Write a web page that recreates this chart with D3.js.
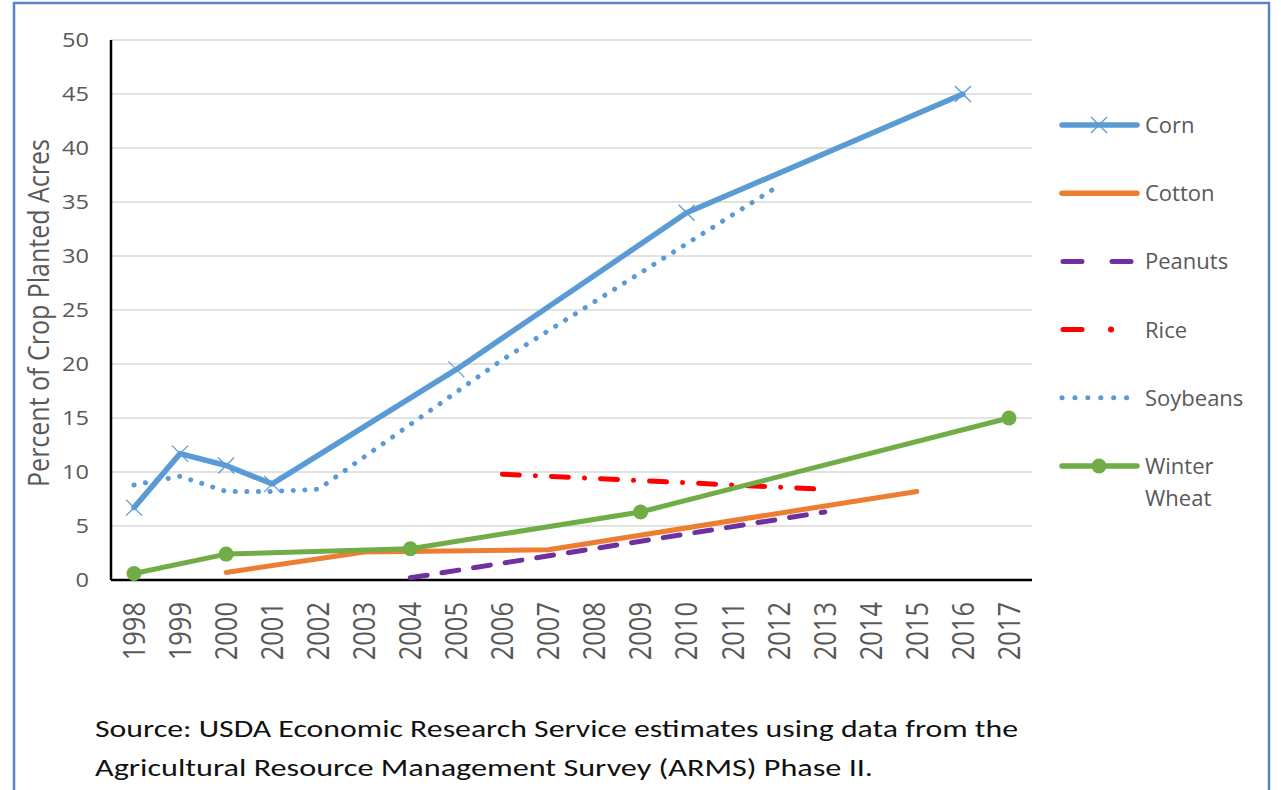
<!DOCTYPE html>
<html>
<head>
<meta charset="utf-8">
<script src="https://cdn.jsdelivr.net/npm/d3@7"></script>
<style>
  body { margin: 0; background: #fff; }
  svg { display: block; }
</style>
</head>
<body>
<div id="chart"></div>
<script>
// data
const years = d3.range(1998, 2018).map(String);
const yTicks = [0, 5, 10, 15, 20, 25, 30, 35, 40, 45, 50];

const cornData = [['1998', 6.7], ['1999', 11.7], ['2000', 10.6], ['2001', 8.9], ['2005', 19.5], ['2010', 34.0], ['2016', 45.0]];
const cottonData = [['2000', 0.7], ['2003', 2.6], ['2007', 2.8], ['2015', 8.2]];
const peanutsData = [['2004', 0.2], ['2013', 6.3]];
const riceData = [['2006', 9.8], ['2013', 8.4]];
const soybeansData = [['1998', 8.8], ['1999', 9.6], ['2000', 8.2], ['2001', 8.2], ['2002', 8.4], ['2006', 20.4], ['2012', 36.5]];
const wheatData = [['1998', 0.6], ['2000', 2.4], ['2004', 2.9], ['2009', 6.3], ['2017', 15.0]];

const series = [
    {name: 'Corn', data: cornData, color: '#5B9BD5', dash: null, marker: 'x'},
    {name: 'Cotton', data: cottonData, color: '#ED7D31', dash: null, marker: null},
    {name: 'Peanuts', data: peanutsData, color: '#7030A0', dash: '17 15', marker: null},
    {name: 'Rice', data: riceData, color: '#FF0000', dash: '17 16 0.1 16', marker: null},
    {name: 'Soybeans', data: soybeansData, color: '#5B9BD5', dash: '0.1 11.5', marker: null},
    {name: 'Winter Wheat', data: wheatData, color: '#70AD47', dash: null, marker: 'circle'}
];

const width = 1281, height = 790;
const plot = {left: 111, right: 1032, top: 40, bottom: 580};
const textColor = '#595959';
const font = "'Open Sans', 'Noto Sans', sans-serif";
const stretch = 1.18; // the picture is a bit wider than tall

const svg = d3.select('#chart').append('svg')
    .attr('width', width)
    .attr('height', height);

svg.append('rect').attr('width', width).attr('height', height).attr('fill', '#fff');

// frame
svg.append('rect')
    .attr('x', 14).attr('y', 3)
    .attr('width', 1255).attr('height', 820)
    .attr('fill', 'none')
    .attr('stroke', '#5585C5')
    .attr('stroke-width', 2.5);

const x = d3.scaleBand().domain(years).range([plot.left, plot.right]);
const cx = d => x(d) + x.bandwidth() / 2;
const y = d3.scaleLinear().domain([0, 50]).range([plot.bottom, plot.top]);

// grid
svg.append('g')
    .selectAll('line')
    .data(yTicks.filter(t => t > 0))
    .enter()
    .append('line')
    .attr('x1', plot.left).attr('x2', plot.right)
    .attr('y1', d => y(d)).attr('y2', d => y(d))
    .attr('stroke', '#D9D9D9')
    .attr('stroke-width', 1.5);

// y tick labels
svg.append('g')
    .selectAll('text')
    .data(yTicks)
    .enter()
    .append('text')
    .attr('transform', d => `translate(89, ${y(d)}) scale(${stretch}, 1)`)
    .attr('dy', '0.36em')
    .attr('text-anchor', 'end')
    .attr('fill', textColor)
    .style('font-family', font)
    .style('font-size', '20px')
    .text(d => d);

// x tick labels
svg.append('g')
    .selectAll('text')
    .data(years)
    .enter()
    .append('text')
    .attr('transform', d => `translate(${cx(d)}, 602) scale(${stretch}, 1) rotate(-90)`)
    .attr('dy', '0.36em')
    .attr('text-anchor', 'end')
    .attr('fill', textColor)
    .style('font-family', font)
    .style('font-size', '25.5px')
    .text(d => d);

// y title
svg.append('text')
    .attr('transform', `translate(38, ${(plot.top + plot.bottom) / 2 + 3}) scale(${stretch}, 1) rotate(-90)`)
    .attr('dy', '0.36em')
    .attr('text-anchor', 'middle')
    .attr('fill', textColor)
    .style('font-family', font)
    .style('font-size', '25px')
    .text('Percent of Crop Planted Acres');

// axes
svg.append('line')
    .attr('x1', plot.left).attr('x2', plot.left)
    .attr('y1', plot.top).attr('y2', plot.bottom)
    .attr('stroke', '#000').attr('stroke-width', 2.5);
svg.append('line')
    .attr('x1', plot.left).attr('x2', plot.right)
    .attr('y1', plot.bottom).attr('y2', plot.bottom)
    .attr('stroke', '#000').attr('stroke-width', 2.5);

const line = d3.line()
    .x(d => cx(d[0]))
    .y(d => y(d[1]));

function drawX(g, px, py, color) {
    const s = 8;
    g.append('path')
        .attr('d', `M${px - s},${py - s}L${px + s},${py + s}M${px - s},${py + s}L${px + s},${py - s}`)
        .attr('stroke', color)
        .attr('stroke-width', 1.3)
        .attr('fill', 'none');
}

series.forEach(s => {
    const g = svg.append('g');
    g.append('path')
        .datum(s.data)
        .attr('d', line)
        .attr('fill', 'none')
        .attr('stroke', s.color)
        .attr('stroke-width', s.name === 'Corn' ? 5.5 : 5)
        .attr('stroke-linecap', 'round')
        .attr('stroke-linejoin', 'round')
        .attr('stroke-dasharray', s.dash);
    if (s.marker === 'x') {
        s.data.forEach(d => drawX(g, cx(d[0]), y(d[1]), s.color));
    }
    if (s.marker === 'circle') {
        g.selectAll('circle')
            .data(s.data)
            .enter()
            .append('circle')
            .attr('cx', d => cx(d[0]))
            .attr('cy', d => y(d[1]))
            .attr('r', 7.5)
            .attr('fill', s.color);
    }
});

// legend
const legend = svg.append('g');
series.forEach((s, i) => {
    const ly = 125 + i * 68.2;
    const row = legend.append('g');
    if (s.name === 'Peanuts') {
        row.append('path')
            .attr('d', `M1063,${ly}L1082,${ly}M1112,${ly}L1131,${ly}`)
            .attr('stroke', s.color).attr('stroke-width', 5).attr('stroke-linecap', 'round');
    } else if (s.name === 'Rice') {
        row.append('path')
            .attr('d', `M1063,${ly}L1082,${ly}`)
            .attr('stroke', s.color).attr('stroke-width', 5).attr('stroke-linecap', 'round');
        row.append('circle').attr('cx', 1111).attr('cy', ly).attr('r', 3).attr('fill', s.color);
    } else if (s.name === 'Soybeans') {
        row.append('path')
            .attr('d', `M1062,${ly}L1136,${ly}`)
            .attr('stroke', s.color).attr('stroke-width', 5)
            .attr('stroke-linecap', 'round').attr('stroke-dasharray', '0.1 12.8');
    } else {
        row.append('path')
            .attr('d', `M1062,${ly}L1137,${ly}`)
            .attr('stroke', s.color).attr('stroke-width', 5.5).attr('stroke-linecap', 'round');
    }
    if (s.marker === 'x') drawX(row, 1099, ly, s.color);
    if (s.marker === 'circle') row.append('circle').attr('cx', 1099).attr('cy', ly).attr('r', 7.5).attr('fill', s.color);

    const words = s.name.split(' ');
    words.forEach((w, j) => {
        row.append('text')
            .attr('x', 1145)
            .attr('y', ly + j * 32)
            .attr('dy', '0.36em')
            .attr('fill', textColor)
            .style('font-family', font)
            .style('font-size', '22px')
            .text(w);
    });
});

// source note
const sourceLines = [
    'Source: USDA Economic Research Service estimates using data from the',
    'Agricultural Resource Management Survey (ARMS) Phase II.'
];
const sourceWidths = [923, 778];
sourceLines.forEach((t, i) => {
    svg.append('text')
        .attr('x', 95)
        .attr('y', 737 + i * 39)
        .attr('fill', '#111')
        .attr('textLength', sourceWidths[i])
        .attr('lengthAdjust', 'spacingAndGlyphs')
        .style('font-family', "Carlito, 'Liberation Sans Narrow', 'Open Sans', sans-serif")
        .style('font-size', '25px')
        .text(t);
});
</script>
</body>
</html>
